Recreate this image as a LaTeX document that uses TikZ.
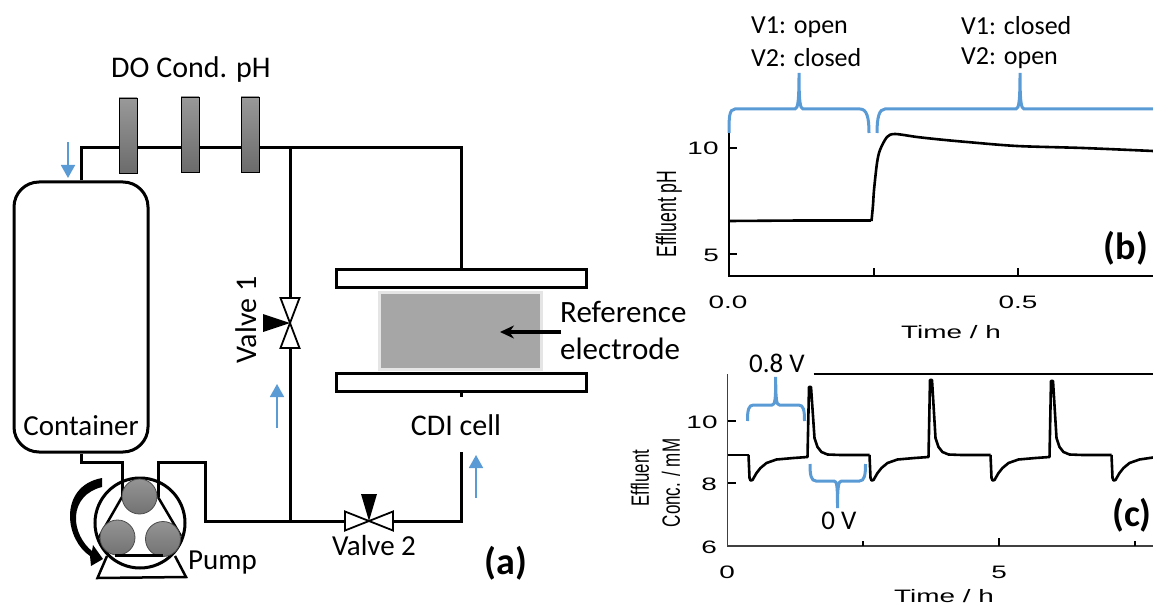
\documentclass[tikz,border=0pt]{standalone}
\usepackage{fontspec}
\setmainfont{Carlito}
\newfontfamily\axisfont{Liberation Sans}
\usetikzlibrary{arrows.meta, positioning, shapes}
\definecolor{flowblue}{HTML}{5B9BD5}
\newcommand{\fsize}[1]{\fontsize{#1}{#1}\selectfont}
\begin{document}
\begin{tikzpicture}[
  x=1pt, y=-1pt,
  pipe/.style={line width=3pt, line join=miter},
  thin line/.style={line width=1.8pt},
  lbl/.style={inner sep=0pt, font=\fsize{30}},
  small lbl/.style={inner sep=0pt, font=\fsize{26}},
  bold lbl/.style={inner sep=0pt, font=\fsize{38}\bfseries},
  axnum/.style={inner sep=0pt, font=\axisfont\fsize{18}, xscale=1.55},
  sensor/.style={draw, line width=0.7pt, minimum width=18pt, minimum height=75pt, inner sep=0pt,
                 top color=black!40, bottom color=black!58},
  roller/.style={circle, draw=black!70, line width=0.8pt, minimum size=35pt, inner sep=0pt,
                 top color=black!42, bottom color=black!55},
  plate/.style={draw, line width=3pt, fill=white, minimum width=250pt, minimum height=18pt, inner sep=0pt},
  valve/.style={inner sep=0pt, outer sep=0pt},
  flowarr/.style={-{Triangle[length=13pt, width=14pt]}, flowblue, line width=1.8pt},
  brace/.style={flowblue, line width=3pt},
  axis/.style={line width=1.2pt},
  curve/.style={line width=2.6pt, line join=round}
]
  \useasboundingbox (0,0) rectangle (1153,604);

  \node[draw, line width=3pt, rounded corners=25pt, minimum width=134pt, minimum height=270pt, inner sep=0pt] (container) at (81,317) {};
  \node[lbl, font=\fsize{29}] (containerlbl) at (81,426) {Container};

  \node[plate] (plateA) at (461,278.5) {};
  \node[plate] (plateB) at (461,382.5) {};
  \node[draw=black!10, line width=3pt, fill=black!35, minimum width=162pt, minimum height=77pt, inner sep=0pt] (cdi) at (460,331) {};

  \coordinate (topL) at (81,148);
  \coordinate (topR) at (461,148);
  \coordinate (teeTop) at (290,148);
  \coordinate (teeBot) at (290,521);
  \coordinate (cellStub) at (461,397);
  \coordinate (cellIn) at (461,452);
  \coordinate (botR) at (461,521);
  \coordinate (outA) at (81,462);
  \coordinate (outB) at (122,462);
  \coordinate (outC) at (122,497);
  \coordinate (retA) at (158,497);
  \coordinate (retB) at (158,462);
  \coordinate (retC) at (205,462);
  \coordinate (retD) at (205,521);

  \node[valve, minimum width=19pt, minimum height=50pt] (valveA) at (290,323) {};
  \node[valve, minimum width=48pt, minimum height=19pt] (valveB) at (369,521) {};

  \draw[pipe] (container.north) -- (topL) -- (topR) -- (plateA.north);
  \draw[pipe] (teeTop) -- (valveA.north);
  \draw[pipe] (valveA.south) -- (teeBot);
  \draw[pipe] (container.south) -- (outA) -- (outB) -- (outC);
  \draw[pipe] (retA) -- (retB) -- (retC) -- (retD) -- (valveB.west);
  \draw[pipe] (valveB.east) -- (botR) -- (cellIn);
  \draw[pipe] (plateB.south) -- (cellStub);

  \draw[thin line, fill=white] (valveA.north west) -- (valveA.north east) -- (valveA.south west) -- (valveA.south east) -- cycle;
  \draw[thin line, fill=white] (valveB.north west) -- (valveB.south west) -- (valveB.north east) -- (valveB.south east) -- cycle;
  \fill (valveA.center) -- ++(-27,-9) -- ++(0,18) -- cycle;
  \fill (valveB.center) -- ++(-8,-27) -- ++(16,0) -- cycle;

  \node[sensor] (sensDO) at (128,135.5) {};
  \node[sensor] (sensCond) at (190,134.5) {};
  \node[sensor] (sensPH) at (250,134.5) {};
  \node[lbl] (sensors) at (191,70) {DO Cond. pH};

  \node[draw, circle, line width=3pt, minimum size=90pt, inner sep=0pt] (pump) at (140,523) {};
  \draw[pipe, line width=2.5pt] (outC) -- (98.5,538);
  \draw[pipe, line width=2.5pt] (retA) -- (181,536);
  \node[roller] (rollerA) at (139.5,496.5) {};
  \node[roller] (rollerB) at (117.5,537.5) {};
  \node[roller] (rollerC) at (163,539) {};
  \draw[pipe, line width=2.5pt] (115,555.5) -- (163,555.5);
  \draw[pipe, line width=2.5pt] (107,556) -- (97.5,578) -- (186,577) -- (175,556);
  \fill (102,478) .. controls (80,482) and (70,498) .. (70,516)
    .. controls (70,532) and (78,548) .. (90,556) -- (91,566) -- (103,559) -- (93,545) -- (92,551)
    .. controls (83,544) and (75,530) .. (76,516)
    .. controls (77,502) and (86,491) .. (102,487) -- cycle;
  \node[lbl, anchor=west, font=\fsize{29}] (pumplbl) at (188,563) {Pump};

  \node[lbl, rotate=90] (valveAlbl) at (246,320) {Valve 1};
  \node[lbl, font=\fsize{29}] (valveBlbl) at (374,546) {Valve 2};
  \node[lbl] (cdilbl) at (456,425) {CDI cell};
  \node[lbl, anchor=west, font=\fsize{31}] (reflblA) at (560,312) {Reference};
  \node[lbl, anchor=west, font=\fsize{31}] (reflblB) at (560,349) {electrode};
  \coordinate (refEnd) at (561,332);
  \draw[-{Stealth[length=14pt, width=13pt]}, line width=3.5pt] (refEnd) -- (500,332);
  \node[bold lbl] (panelA) at (506,563) {(a)};

  \draw[flowarr] (68,142) -- (68,178);
  \draw[flowarr] (277,428) -- (277,384);
  \draw[flowarr] (476,498) -- (476,455);

  \draw[axis] (729,133) -- (729,276) -- (1153,276);
  \draw[axis] (729,148) -- (737,148);
  \draw[axis] (729,254) -- (737,254);
  \draw[axis] (874,276) -- (874,268);
  \draw[axis] (1018,276) -- (1018,268);
  \node[axnum] (phten) at (703,148) {10};
  \node[axnum] (phfive) at (711,255) {5};
  \node[axnum] (tzero) at (728,302) {0.0};
  \node[axnum] (thalf) at (1018,302) {0.5};
  \node[axnum] (tlabel) at (951,332) {Time / h};
  \node[inner sep=0pt, rotate=90, font=\axisfont\fsize{28}] (phlabel) at (669,214) {\scalebox{0.63}[1]{Effluent pH}};

  \draw[curve] (729,221) -- (800,220.5) -- (871,220.5);
  \draw[curve] plot[smooth] coordinates {(871.5,221) (873,205) (874,190) (877,163) (880,150) (887,137) (895,134) (917,137) (940,139.5) (967,142) (1017,146) (1083,148) (1153,151)};

  \draw[brace] (729,133) .. controls (729,118) and (729,109) .. (735,109) -- (795,109)
    .. controls (798,109) and (799,100) .. (799,73) .. controls (799,100) and (800,109) .. (803,109)
    -- (860,109) .. controls (867,109) and (869,118) .. (869,133);
  \draw[brace] (877,133) .. controls (877,118) and (879,109) .. (885,109) -- (1016,109)
    .. controls (1019,109) and (1020,100) .. (1020,73) .. controls (1020,100) and (1021,109) .. (1024,109) -- (1153,109);
  \node[small lbl, anchor=west] (stateAa) at (751,27) {V1: open};
  \node[small lbl, anchor=west] (stateAb) at (751,58) {V2: closed};
  \node[small lbl, anchor=west] (stateBa) at (961,26) {V1: closed};
  \node[small lbl, anchor=west] (stateBb) at (961,58) {V2: open};
  \node[bold lbl] (panelB) at (1126,248) {(b)};

  \draw[axis, line width=1.6pt, black!75] (727.5,374) -- (727.5,546) -- (1153,546);
  \draw[axis] (727.5,421) -- (735.5,421);
  \draw[axis] (727.5,483) -- (735.5,483);
  \draw[axis] (863,546) -- (863,541);
  \draw[axis] (999,546) -- (999,538);
  \draw[axis] (1135,546) -- (1135,541);
  \node[axnum] (cten) at (702,422) {10};
  \node[axnum] (ceight) at (709,484) {8};
  \node[axnum] (csix) at (709,547) {6};
  \node[axnum] (czero) at (727,572) {0};
  \node[axnum] (cfive) at (999,572) {5};
  \node[axnum] (ctlabel) at (944,596) {Time / h};
  \node[inner sep=0pt, rotate=90, font=\axisfont\fsize{25}] (clabelA) at (640,478) {\scalebox{0.67}[1]{Effluent}};
  \node[inner sep=0pt, rotate=90, font=\axisfont\fsize{25}] (clabelB) at (671,483) {\scalebox{0.68}[1]{Conc. / mM}};
  \draw[line width=1.5pt] (813.5,374) -- (1153,374);

  \draw[curve] (727.5,455) -- (748.5,455);
  \foreach \xo/\ytop in {748.5/387, 869.5/380, 990.5/381} {
    \draw[curve] (\xo,455) -- (\xo+1,478) -- (\xo+2,480.5) -- (\xo+4,480) -- (\xo+8,473) -- (\xo+12,468) -- (\xo+18,463)
      -- (\xo+28,459.5) -- (\xo+45,458) -- (\xo+59,457) -- (\xo+60.5,\ytop) -- (\xo+62.5,\ytop) -- (\xo+66,438)
      -- (\xo+69,447) -- (\xo+73,452) -- (\xo+79,454.5) -- (\xo+92,455) -- (\xo+121,455);
  }
  \draw[curve] (1111.5,455) -- (1112.5,478) -- (1113.5,480.5) -- (1115.5,480) -- (1119.5,473) -- (1123.5,468) -- (1129.5,463)
    -- (1139.5,459.5) -- (1153,457.5);

  \draw[brace] (747.5,421) .. controls (747.5,410) and (748.5,405) .. (753.5,405) -- (772,405)
    .. controls (775,405) and (775.7,400) .. (775.7,377) .. controls (775.7,400) and (776.5,405) .. (779.5,405)
    -- (798.5,405) .. controls (803.5,405) and (804.5,410) .. (804.5,421);
  \draw[brace] (810,464) .. controls (810,475) and (811,481) .. (816,481) -- (834,481)
    .. controls (837,481) and (837.5,486) .. (837.5,508) .. controls (837.5,486) and (838.5,481) .. (841.5,481)
    -- (859.5,481) .. controls (864.5,481) and (865.5,475) .. (865.5,464);
  \node[small lbl, font=\fsize{27}] (onlbl) at (777,363) {0.8 V};
  \node[small lbl, font=\fsize{27}] (offlbl) at (839,521) {0 V};
  \node[bold lbl] (panelC) at (1132,515) {(c)};
\end{tikzpicture}
\end{document}
